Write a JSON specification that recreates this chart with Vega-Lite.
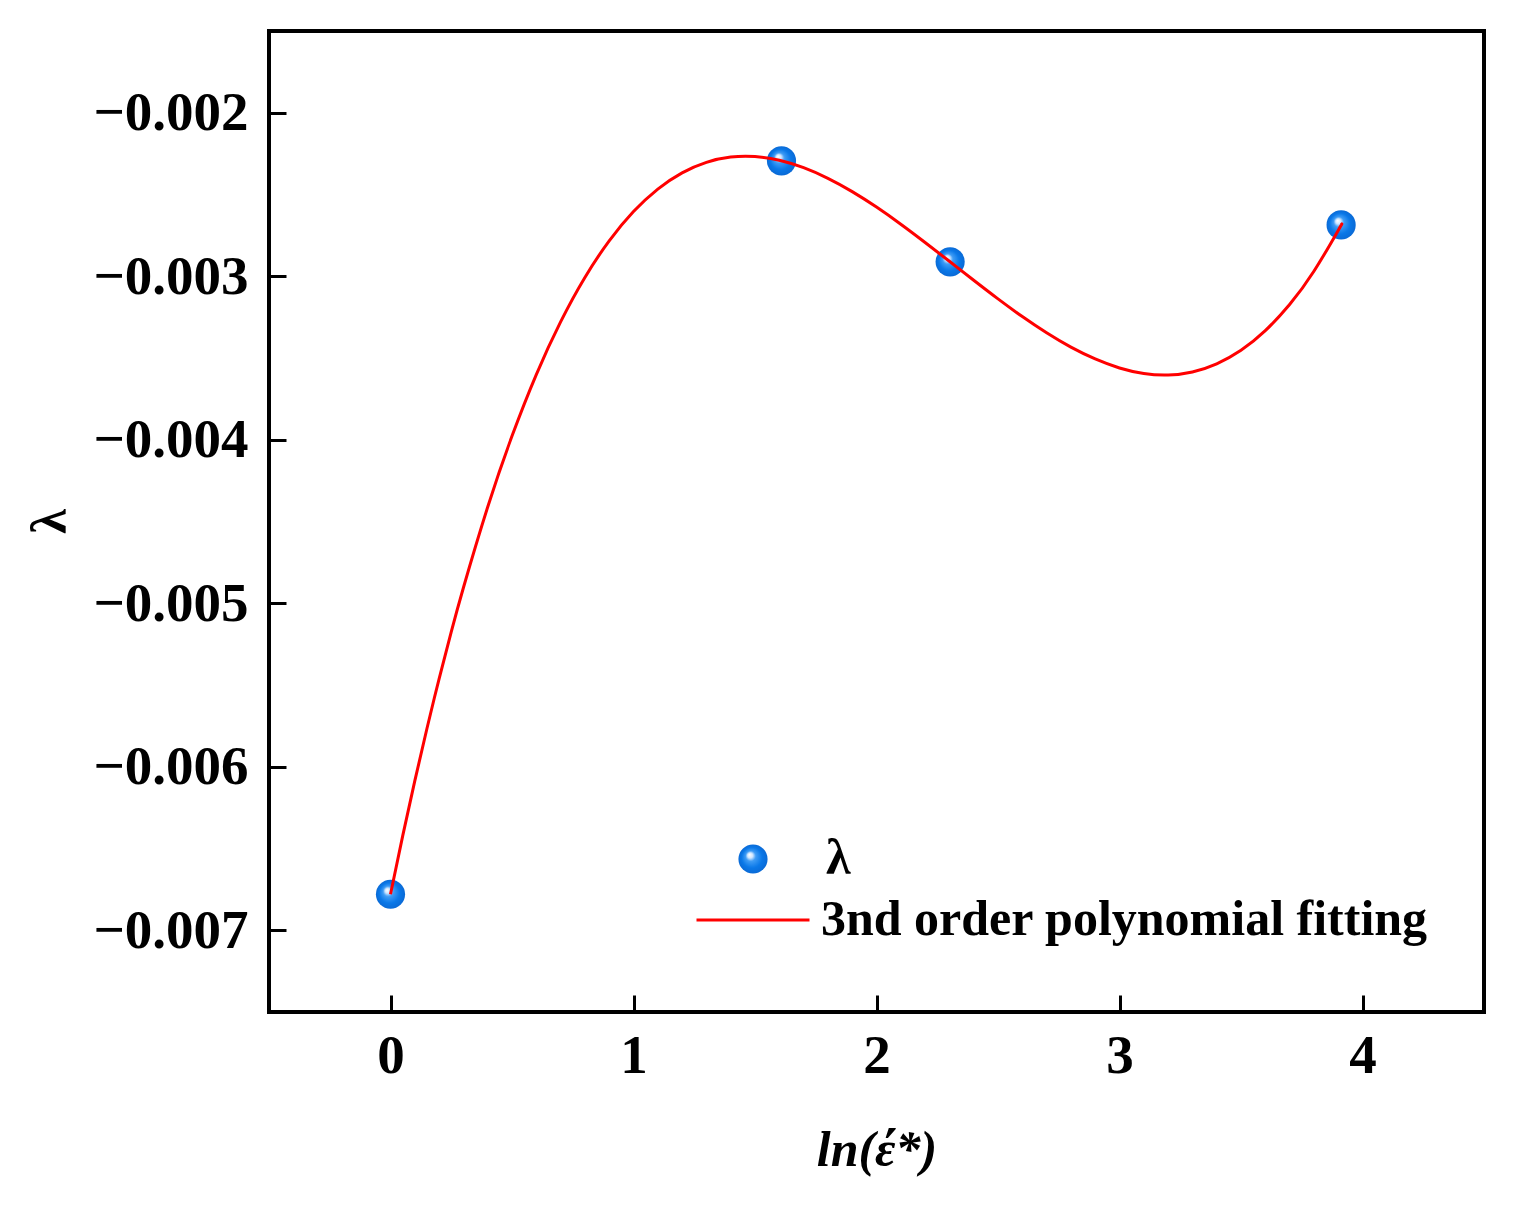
{
  "$schema": "https://vega.github.io/schema/vega-lite/v6.json",
  "autosize": "none",
  "padding": {"left": 269, "top": 31, "right": 39, "bottom": 195},
  "width": 1215,
  "height": 981,
  "background": "white",
  "config": {
    "view": {"stroke": "black", "strokeWidth": 4},
    "font": "Liberation Serif",
    "axis": {
      "domain": false,
      "grid": false,
      "zindex": 1,
      "tickColor": "black",
      "tickWidth": 3,
      "tickSize": -17,
      "labelFont": "Liberation Serif",
      "labelFontWeight": "bold",
      "labelFontSize": 55,
      "labelColor": "black",
      "titleFont": "Liberation Serif",
      "titleFontWeight": "bold",
      "titleColor": "black"
    }
  },
  "datasets": {
    "pts": [
      {"x": 0, "y": -0.00678, "s1": "λ"},
      {"x": 1.609, "y": -0.002294, "s1": "λ"},
      {"x": 2.303, "y": -0.002912, "s1": "λ"},
      {"x": 3.912, "y": -0.002686, "s1": "λ"}
    ],
    "fit": [
      {"x": 0, "y": -0.00678},
      {"x": 0.05, "y": -0.0064243},
      {"x": 0.1, "y": -0.0060864},
      {"x": 0.15, "y": -0.0057659},
      {"x": 0.2, "y": -0.0054625},
      {"x": 0.25, "y": -0.0051757},
      {"x": 0.3, "y": -0.0049051},
      {"x": 0.4, "y": -0.0044112},
      {"x": 0.5, "y": -0.0039776},
      {"x": 0.6, "y": -0.0036012},
      {"x": 0.7, "y": -0.0032788},
      {"x": 0.8, "y": -0.0030073},
      {"x": 0.9, "y": -0.0027835},
      {"x": 1.0, "y": -0.0026044},
      {"x": 1.1, "y": -0.0024667},
      {"x": 1.2, "y": -0.0023674},
      {"x": 1.3, "y": -0.0023033},
      {"x": 1.4, "y": -0.0022712},
      {"x": 1.5, "y": -0.0022681},
      {"x": 1.6, "y": -0.0022908},
      {"x": 1.7, "y": -0.0023362},
      {"x": 1.8, "y": -0.0024011},
      {"x": 1.9, "y": -0.0024823},
      {"x": 2.0, "y": -0.0025769},
      {"x": 2.1, "y": -0.0026815},
      {"x": 2.2, "y": -0.0027932},
      {"x": 2.3, "y": -0.0029086},
      {"x": 2.4, "y": -0.0030248},
      {"x": 2.5, "y": -0.0031386},
      {"x": 2.6, "y": -0.0032468},
      {"x": 2.7, "y": -0.0033462},
      {"x": 2.8, "y": -0.0034339},
      {"x": 2.9, "y": -0.003506},
      {"x": 3.0, "y": -0.0035611},
      {"x": 3.1, "y": -0.003595},
      {"x": 3.2, "y": -0.0036041},
      {"x": 3.3, "y": -0.0035853},
      {"x": 3.4, "y": -0.0035355},
      {"x": 3.5, "y": -0.0034525},
      {"x": 3.6, "y": -0.0033326},
      {"x": 3.7, "y": -0.0031724},
      {"x": 3.8, "y": -0.0029693},
      {"x": 3.9, "y": -0.0027197},
      {"x": 3.912, "y": -0.0026865}
    ]
  },
  "encoding": {
    "x": {
      "field": "x", "type": "quantitative",
      "scale": {"domain": [-0.5, 4.5], "nice": false, "zero": false},
      "axis": {"values": [0, 1, 2, 3, 4], "format": "d", "title": "ln(έ*)", "titleFontStyle": "italic", "titleFontSize": 50, "labelPadding": 34, "titleY": 138, "titleBaseline": "middle"}
    },
    "y": {
      "field": "y", "type": "quantitative",
      "scale": {"domain": [-0.0075, -0.0015], "nice": false, "zero": false},
      "axis": {"values": [-0.002, -0.003, -0.004, -0.005, -0.006, -0.007], "format": ".3f", "title": "λ", "titleFontSize": 50, "labelPadding": 38, "titleX": -219, "titleY": 490, "titleAngle": -90, "titleBaseline": "middle", "titleAlign": "center"}
    }
  },
  "layer": [
    {
      "data": {"name": "pts"},
      "mark": {
        "type": "point", "filled": true, "size": 850, "opacity": 1, "strokeWidth": 0,
        "fill": {"gradient": "radial", "x1": 0.38, "y1": 0.35, "r1": 0, "x2": 0.5, "y2": 0.5, "r2": 0.5,
          "stops": [
            {"offset": 0, "color": "#ffffff"},
            {"offset": 0.18, "color": "#cfe6ff"},
            {"offset": 0.35, "color": "#3f9cf5"},
            {"offset": 0.7, "color": "#0a78e8"},
            {"offset": 1, "color": "#0a6ad6"}
          ]}
      },
      "encoding": {
        "shape": {
          "field": "s1", "type": "nominal",
          "scale": {"domain": ["λ"], "range": ["circle"]},
          "legend": {
            "orient": "none", "legendX": 459, "legendY": 803, "title": null,
            "labelFont": "Liberation Serif", "labelFontWeight": "bold", "labelFontSize": 50, "labelColor": "black",
            "symbolSize": 850, "symbolFillColor": "#0a78e8", "symbolStrokeWidth": 0, "labelOffset": 48
          }
        }
      }
    },
    {
      "data": {"name": "fit"},
      "mark": {"type": "line", "strokeWidth": 3, "interpolate": "natural"},
      "encoding": {
        "stroke": {
          "field": "s2", "type": "nominal",
          "scale": {"domain": ["3nd order polynomial fitting"], "range": ["#ff0000"]},
          "legend": {
            "orient": "none", "legendX": 426, "legendY": 831, "title": null,
            "labelFont": "Liberation Serif", "labelFontWeight": "bold", "labelFontSize": 50, "labelColor": "black", "labelLimit": 0,
            "symbolType": "stroke", "symbolSize": 12769, "symbolStrokeWidth": 3, "labelOffset": 10
          }
        }
      },
      "transform": [{"calculate": "'3nd order polynomial fitting'", "as": "s2"}]
    }
  ]
}
